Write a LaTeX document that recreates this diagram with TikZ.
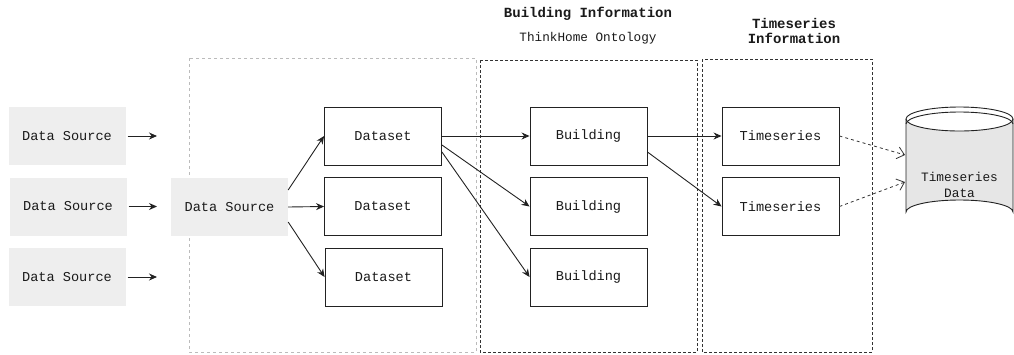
\documentclass[tikz,border=0pt]{standalone}
\usepackage{fontspec}
\setmonofont{Liberation Mono}
\usetikzlibrary{arrows.meta,calc}
\definecolor{srcgray}{HTML}{EEEEEE}
\definecolor{boxline}{HTML}{222222}
\definecolor{txt}{HTML}{1A1A1A}
\definecolor{lightdash}{HTML}{BBBBBB}
\definecolor{darkdash}{HTML}{333333}
\definecolor{cylfill}{HTML}{E6E6E6}
\begin{document}
\begin{tikzpicture}[x=1pt,y=-1pt,
  lbl/.style={font=\ttfamily\fontsize{13.6}{15}\selectfont, text=txt},
  src/.style={lbl, fill=srcgray, minimum width=117pt, minimum height=58pt, inner sep=0pt},
  box/.style={lbl, draw=boxline, fill=white, line width=0.9pt, minimum width=117pt, minimum height=58pt, inner sep=0pt},
  conn/.style={draw=boxline, line width=0.9pt, -{Stealth[length=8pt,width=7pt]}},
  dconn/.style={draw=darkdash, line width=0.8pt, dash pattern=on 3pt off 3pt, -{Straight Barb[length=7pt,width=12pt]}},
  lightgroup/.style={draw=lightdash, line width=0.9pt, dash pattern=on 3pt off 3pt},
  darkgroup/.style={draw=darkdash, line width=1pt, dash pattern=on 3pt off 2pt},
  title/.style={font=\ttfamily\bfseries\fontsize{14}{15}\selectfont, text=txt, inner sep=0pt},
  subtitle/.style={font=\ttfamily\fontsize{12.7}{14}\selectfont, text=txt, inner sep=0pt}
]
\useasboundingbox (0,0) rectangle (1014,354);

% groups
\draw[lightgroup] (189,58) rectangle (476,352);
\draw[darkgroup] (480,60) rectangle (697,352);
\draw[darkgroup] (702,59) rectangle (872,352);

% titles
\node[title] (tbi) at (588,14) {Building Information};
\node[subtitle] (tth) at (588,38) {ThinkHome Ontology};
\node[title, align=center] (tti) at (794,31) {Timeseries\\Information};

% sources
\node[src] (s1) at (67,136) {Data Source};
\node[src] (s2) at (68,206.5) {Data Source};
\node[src] (s3) at (67,277) {Data Source};
\coordinate (e1) at (157,136);
\coordinate (e2) at (157,206.5);
\coordinate (e3) at (157,277);
\draw[conn] (s1.east) ++(2,0) -- (e1);
\draw[conn] (s2.east) ++(2,0) -- (e2);
\draw[conn] (s3.east) ++(2,0) -- (e3);

\node[src] (ds) at (229.5,207) {Data Source};

% datasets
\node[box] (d1) at (383,136) {Dataset};
\node[box] (d2) at (383,206.5) {Dataset};
\node[box] (d3) at (383.5,277) {Dataset};

% buildings
\node[box] (b1) at (588.5,136) {Building};
\node[box] (b2) at (588.5,206.5) {Building};
\node[box] (b3) at (588.5,277) {Building};

% timeseries
\node[box] (t1) at (780.5,136) {Timeseries};
\node[box] (t2) at (780.5,206.5) {Timeseries};

% cylinder
\fill[cylfill] (906,119) -- (906,212) arc[start angle=180,end angle=360,x radius=53.5,y radius=12] -- (1013,119) arc[start angle=0,end angle=180,x radius=53.5,y radius=12] -- cycle;
\draw[boxline, line width=0.9pt] (906,119) -- (906,212) arc[start angle=180,end angle=360,x radius=53.5,y radius=12] -- (1013,119);
\draw[boxline, line width=0.9pt] (906,119) arc[start angle=180,end angle=-180,x radius=53.5,y radius=12];
\draw[boxline, line width=0.9pt] (906,124) arc[start angle=180,end angle=360,x radius=53.5,y radius=12];
\node[lbl, font=\ttfamily\fontsize{12.8}{16}\selectfont, align=center] (cyl) at (959.5,185) {Timeseries\\Data};
\coordinate (c1) at (905,155);
\coordinate (c2) at (905,182);

% connectors
\draw[conn] ($(ds.east)+(0,-17)$) -- (d1.west);
\draw[conn] (ds.east) -- (d2.west);
\draw[conn] ($(ds.east)+(0,15)$) -- (d3.west);

\draw[conn] (d1.east) -- (b1.west);
\draw[conn] ($(d1.east)+(0,9)$) -- (b2.west);
\draw[conn] ($(d1.east)+(0,16)$) -- (b3.west);

\draw[conn] (b1.east) -- (t1.west);
\draw[conn] ($(b1.east)+(0,16)$) -- (t2.west);

\draw[dconn] (t1.east) -- (c1);
\draw[dconn] (t2.east) -- (c2);
\end{tikzpicture}
\end{document}
